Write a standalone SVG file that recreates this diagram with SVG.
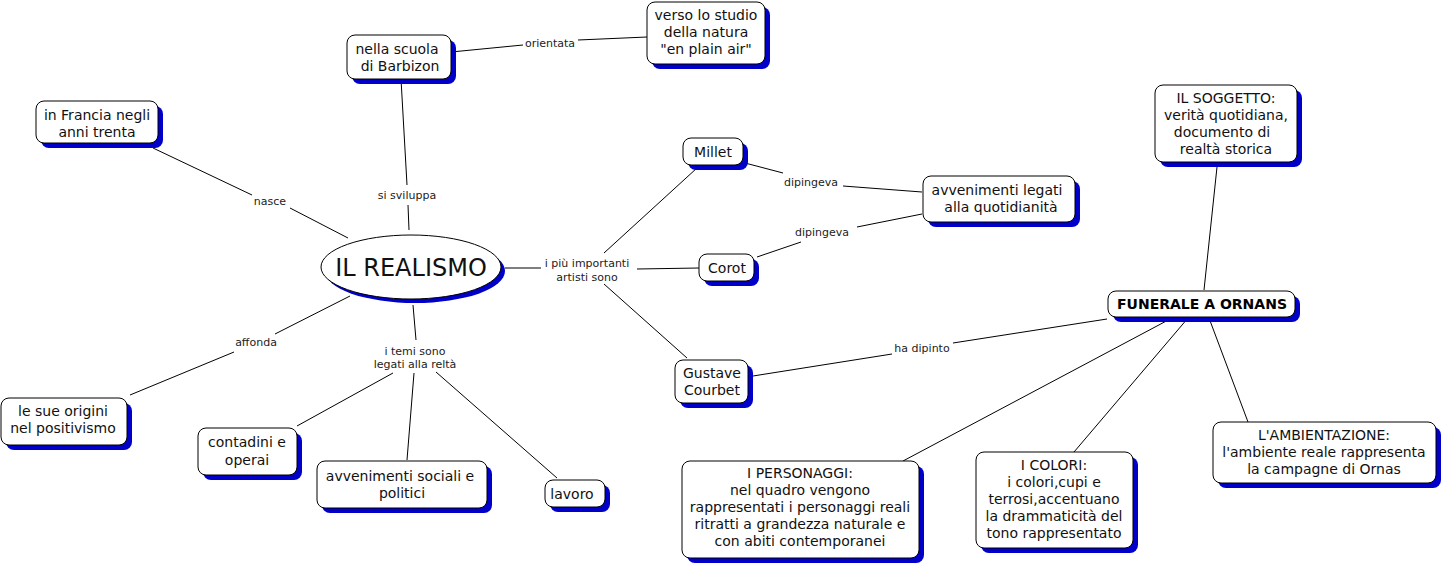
<svg xmlns="http://www.w3.org/2000/svg" width="1442" height="563" viewBox="0 0 1442 563">
<style>
.bg{fill:#ffffff}
.sh{fill:#0000c8}
.box{fill:#ffffff;stroke:#000000;stroke-width:1}
.t{font-family:"DejaVu Sans",Verdana,sans-serif;font-size:14px;fill:#111111;text-anchor:middle}
.b{font-weight:bold;fill:#000000}
.big{font-size:24px}
.lb{font-family:"DejaVu Sans",Verdana,sans-serif;font-size:11px;fill:#222222;text-anchor:middle}
.c{stroke:#000000;stroke-width:1;fill:none}
</style>
<rect class="bg" x="0" y="0" width="1442" height="563"/>
<g id="connectors">
<polyline class="c" points="451,52 523,45"/><polyline class="c" points="578,40 647,37"/>
<polyline class="c" points="401,79 407,185"/><polyline class="c" points="408,205 409,230"/>
<polyline class="c" points="153,148 252,195"/><polyline class="c" points="290,208 348,238"/>
<polyline class="c" points="350,296 275,334"/><polyline class="c" points="234,352 130,395"/>
<polyline class="c" points="413,305 416,340"/>
<polyline class="c" points="393,373 297,426"/>
<polyline class="c" points="414,373 407,460"/>
<polyline class="c" points="436,372 557,478"/>
<polyline class="c" points="505,268 541,268"/>
<polyline class="c" points="604,253 697,168"/>
<polyline class="c" points="637,269 699,268"/>
<polyline class="c" points="604,284 687,358"/>
<polyline class="c" points="745,163 783,173"/><polyline class="c" points="843,186 922,192"/>
<polyline class="c" points="757,257 801,242"/><polyline class="c" points="857,227 922,214"/>
<polyline class="c" points="753,376 892,354"/><polyline class="c" points="953,343 1107,319"/>
<polyline class="c" points="1204,290 1217,167"/>
<polyline class="c" points="1172,318 903,461"/>
<polyline class="c" points="1188,318 1074,452"/>
<polyline class="c" points="1209,318 1248,422"/>
<text class="lb" x="550" y="47">orientata</text>
<text class="lb" x="407" y="199">si sviluppa</text>
<text class="lb" x="270" y="205">nasce</text>
<text class="lb" x="256" y="346">affonda</text>
<text class="lb" x="415" y="355">i temi sono</text>
<text class="lb" x="415" y="368">legati alla reltà</text>
<text class="lb" x="587" y="267">i più importanti</text>
<text class="lb" x="587" y="281">artisti sono</text>
<text class="lb" x="811" y="186">dipingeva</text>
<text class="lb" x="822" y="236">dipingeva</text>
<text class="lb" x="922" y="352">ha dipinto</text>
</g>
<g id="realismo">
<ellipse class="sh" cx="415" cy="271" rx="90" ry="32"/>
<ellipse class="box" cx="411" cy="267" rx="90" ry="32"/>
<text class="t big" x="411" y="276">IL REALISMO</text>
</g>
<g id="barbizon">
<rect class="sh" x="352" y="40" width="104" height="44" rx="8"/>
<rect class="box" x="347" y="35" width="104" height="44" rx="8"/>
<text class="t" x="397" y="54">nella scuola</text><text class="t" x="400" y="71">di Barbizon</text>
</g>
<g id="verso">
<rect class="sh" x="652" y="7" width="118" height="62" rx="8"/>
<rect class="box" x="647" y="2" width="118" height="62" rx="8"/>
<text class="t" x="706" y="20">verso lo studio</text><text class="t" x="706" y="37">della natura</text><text class="t" x="706" y="54">"en plain air"</text>
</g>
<g id="francia">
<rect class="sh" x="41" y="106" width="122" height="42" rx="8"/>
<rect class="box" x="36" y="101" width="122" height="42" rx="8"/>
<text class="t" x="97" y="120">in Francia negli</text><text class="t" x="97" y="137">anni trenta</text>
</g>
<g id="origini">
<rect class="sh" x="6" y="403" width="126" height="47" rx="8"/>
<rect class="box" x="1" y="398" width="126" height="47" rx="8"/>
<text class="t" x="63" y="416">le sue origini</text><text class="t" x="63" y="433">nel positivismo</text>
</g>
<g id="contadini">
<rect class="sh" x="203" y="433" width="99" height="47" rx="8"/>
<rect class="box" x="198" y="428" width="99" height="47" rx="8"/>
<text class="t" x="247" y="447">contadini e</text><text class="t" x="247" y="465">operai</text>
</g>
<g id="sociali">
<rect class="sh" x="322" y="466" width="170" height="47" rx="8"/>
<rect class="box" x="317" y="461" width="170" height="47" rx="8"/>
<text class="t" x="400" y="481">avvenimenti sociali e</text><text class="t" x="402" y="498">politici</text>
</g>
<g id="lavoro">
<rect class="sh" x="550" y="485" width="60" height="27" rx="8"/>
<rect class="box" x="545" y="480" width="60" height="27" rx="8"/>
<text class="t" x="572" y="499">lavoro</text>
</g>
<g id="millet">
<rect class="sh" x="688" y="143" width="60" height="27" rx="8"/>
<rect class="box" x="683" y="138" width="60" height="27" rx="8"/>
<text class="t" x="713" y="157">Millet</text>
</g>
<g id="corot">
<rect class="sh" x="704" y="259" width="55" height="27" rx="8"/>
<rect class="box" x="699" y="254" width="55" height="27" rx="8"/>
<text class="t" x="727" y="273">Corot</text>
</g>
<g id="quotidianita">
<rect class="sh" x="928" y="181" width="152" height="46" rx="8"/>
<rect class="box" x="923" y="176" width="152" height="46" rx="8"/>
<text class="t" x="997" y="195">avvenimenti legati</text><text class="t" x="1001" y="212">alla quotidianità</text>
</g>
<g id="courbet">
<rect class="sh" x="680" y="365" width="73" height="43" rx="8"/>
<rect class="box" x="675" y="360" width="73" height="43" rx="8"/>
<text class="t" x="712" y="378">Gustave</text><text class="t" x="712" y="395">Courbet</text>
</g>
<g id="funerale">
<rect class="sh" x="1113" y="296" width="187" height="26" rx="8"/>
<rect class="box" x="1108" y="291" width="187" height="26" rx="8"/>
<text class="t b" x="1202" y="309">FUNERALE A ORNANS</text>
</g>
<g id="soggetto">
<rect class="sh" x="1160" y="90" width="142" height="77" rx="8"/>
<rect class="box" x="1155" y="85" width="142" height="77" rx="8"/>
<text class="t" x="1226" y="103">IL SOGGETTO:</text><text class="t" x="1226" y="120">verità quotidiana,</text><text class="t" x="1222" y="137">documento di</text><text class="t" x="1226" y="154">realtà storica</text>
</g>
<g id="personaggi">
<rect class="sh" x="687" y="466" width="237" height="97" rx="8"/>
<rect class="box" x="682" y="461" width="237" height="97" rx="8"/>
<text class="t" x="800" y="478">I PERSONAGGI:</text><text class="t" x="800" y="495">nel quadro vengono</text><text class="t" x="800" y="512">rappresentati i personaggi reali</text><text class="t" x="800" y="529">ritratti a grandezza naturale e</text><text class="t" x="800" y="546">con abiti contemporanei</text>
</g>
<g id="colori">
<rect class="sh" x="981" y="457" width="157" height="96" rx="8"/>
<rect class="box" x="976" y="452" width="157" height="96" rx="8"/>
<text class="t" x="1054" y="470">I COLORI:</text><text class="t" x="1054" y="487">i colori,cupi e</text><text class="t" x="1054" y="504">terrosi,accentuano</text><text class="t" x="1054" y="521">la drammaticità del</text><text class="t" x="1054" y="538">tono rappresentato</text>
</g>
<g id="ambientazione">
<rect class="sh" x="1218" y="427" width="223" height="61" rx="8"/>
<rect class="box" x="1213" y="422" width="223" height="61" rx="8"/>
<text class="t" x="1324" y="440">L'AMBIENTAZIONE:</text><text class="t" x="1324" y="457">l'ambiente reale rappresenta</text><text class="t" x="1324" y="474">la campagne di Ornas</text>
</g>
</svg>
